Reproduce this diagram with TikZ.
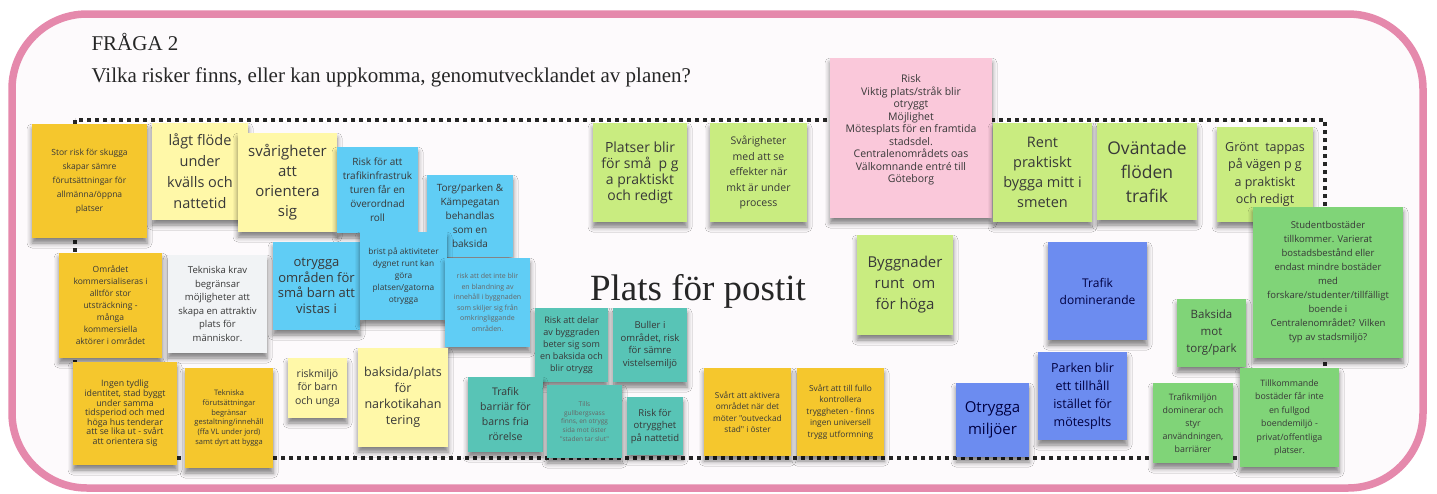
\documentclass[tikz,border=0pt]{standalone}
\usepackage{fontspec}
\setmainfont{Liberation Serif}
\newfontfamily\notesans{Open Sans}
\usetikzlibrary{shadows.blur}
\newcommand{\notefont}[2]{\notesans\fontsize{#1}{#2}\selectfont}

\definecolor{frameRose}{RGB}{229,137,172}
\definecolor{boardTint}{RGB}{253,250,252}
\definecolor{noteOrange}{RGB}{245,199,45}
\definecolor{noteLight}{RGB}{255,248,168}
\definecolor{noteBlue}{RGB}{96,205,245}
\definecolor{noteTeal}{RGB}{88,196,182}
\definecolor{noteLime}{RGB}{201,236,128}
\definecolor{noteGreen}{RGB}{128,212,120}
\definecolor{noteViolet}{RGB}{108,140,240}
\definecolor{notePink}{RGB}{250,200,218}
\definecolor{noteGrey}{RGB}{241,243,245}

\begin{document}
\begin{tikzpicture}[x=1pt, y=-1pt,
  note/.style={anchor=north west, align=center, inner sep=2pt, outer sep=0pt, fill=#1, text=black!78,
    blur shadow={shadow xshift=0pt, shadow yshift=-5pt, shadow blur radius=5pt, shadow opacity=50}},
  faint/.style={text=black!60}]
  \useasboundingbox (0,0) rectangle (1437,493);
  % board
  \draw[frameRose, line width=7.5pt, fill=boardTint, rounded corners=75pt] (12,14) rectangle (1423,488);
  \node[anchor=base west, font=\fontsize{21}{21}\selectfont, text=black!85] (fraga) at (88,50) {FRÅGA 2};
  \node[anchor=base west, font=\fontsize{21}{21}\selectfont, text=black!85] (question) at (88,82)
    {Vilka risker finns, eller kan uppkomma, genomutvecklandet av planen?};
  \draw[line width=3.5pt, dash pattern=on 4pt off 4pt, black!85] (75,120) rectangle (1325,458);
  \node[anchor=base, font=\fontsize{37}{37}\selectfont, text=black!85] (postit) at (698,300) {Plats för postit};

  % left group
  \node[note=noteOrange, minimum width=115, minimum height=114, font=\notefont{8.5}{14}] (skugga) at (32,124)
    {Stor risk för skugga\\skapar sämre\\förutsättningar för\\allmänna/öppna\\platser};
  \node[note=noteLight, minimum width=96, minimum height=97, font=\notefont{14.5}{21}] (flode) at (152,123)
    {lågt flöde\\under\\kvälls och\\nattetid};
  \node[note=noteLight, minimum width=99, minimum height=99, font=\notefont{15}{20}] (orientera) at (238,133)
    {svårigheter\\att\\orientera\\sig};
  \node[note=noteBlue, minimum width=81, minimum height=86, font=\notefont{10}{14}] (infra) at (337,147)
    {Risk för att\\trafikinfrastruk\\turen får en\\överordnad\\roll};
  \node[note=noteBlue, minimum width=86, minimum height=82, font=\notefont{10}{14}] (torg) at (427,175)
    {Torg/parken \&\\Kämpegatan\\behandlas\\som en\\baksida};
  \node[note=noteBlue, minimum width=87, minimum height=88, font=\notefont{13}{15.5}] (smabarn) at (273,242)
    {otrygga\\områden för\\små barn att\\vistas i};
  \node[note=noteBlue, minimum width=87, minimum height=88, font=\notefont{8.3}{12}] (brist) at (360,232)
    {brist på aktiviteter\\dygnet runt kan\\göra\\platsen/gatorna\\otrygga};
  \node[note=noteBlue, faint, minimum width=85, minimum height=89, font=\notefont{7}{10.5}] (blandning) at (445,258)
    {risk att det inte blir\\en blandning av\\innehåll i byggnaden\\som skiljer sig från\\omkringliggande\\områden.};
  \node[note=noteOrange, minimum width=103, minimum height=105, font=\notefont{8.5}{12}] (kommers) at (59,253)
    {Området\\kommersialiseras i\\alltför stor\\utsträckning -\\många\\kommersiella\\aktörer i området};
  \node[note=noteGrey, minimum width=99, minimum height=98, font=\notefont{9.5}{13.5}] (krav) at (168,255)
    {Tekniska krav\\begränsar\\möjligheter att\\skapa en attraktiv\\plats för\\människor.};
  \node[note=noteOrange, minimum width=104, minimum height=103, font=\notefont{8.8}{9.6}] (identitet) at (73,362)
    {Ingen tydlig\\identitet, stad byggt\\under samma\\tidsperiod och med\\höga hus tenderar\\att se lika ut - svårt\\att orientera sig};
  \node[note=noteOrange, minimum width=88, minimum height=100, font=\notefont{7.5}{9.8}] (forutsatt) at (185,368)
    {Tekniska\\förutsättningar\\begränsar\\gestaltning/innehåll\\(ffa VL under jord)\\samt dyrt att bygga};
  \node[note=noteLight, minimum width=59, minimum height=60, font=\notefont{10.5}{13.5}] (riskmiljo) at (288,358)
    {riskmiljö\\för barn\\och unga};
  \node[note=noteLight, minimum width=90, minimum height=99, font=\notefont{12.5}{16}] (narkotika) at (358,348)
    {baksida/plats\\för\\narkotikahan\\tering};

  % teal group
  \node[note=noteTeal, minimum width=73, minimum height=74, font=\notefont{9}{12}] (byggrad) at (535,308)
    {Risk att delar\\av byggraden\\beter sig som\\en baksida och\\blir otrygg};
  \node[note=noteTeal, minimum width=74, minimum height=74, font=\notefont{9.5}{12.5}] (buller) at (613,308)
    {Buller i\\området, risk\\för sämre\\vistelsemiljö};
  \node[note=noteTeal, minimum width=75, minimum height=75, font=\notefont{10.5}{15}] (barriar) at (468,377)
    {Trafik\\barriär för\\barns fria\\rörelse};
  \node[note=noteTeal, faint, minimum width=75, minimum height=73, font=\notefont{6.5}{8.8}] (gullberg) at (547,385)
    {Tills\\gullbergsvass\\finns, en otrygg\\sida mot öster\\"staden tar slut"};
  \node[note=noteTeal, minimum width=56, minimum height=58, font=\notefont{9.5}{12.5}] (nattetid) at (627,397)
    {Risk för\\otrygghet\\på nattetid};

  % top row
  \node[note=noteLime, minimum width=94, minimum height=99, font=\notefont{14}{16}] (platser) at (593,123)
    {Platser blir\\för små~ p g\\a praktiskt\\och redigt};
  \node[note=noteLime, minimum width=97, minimum height=99, font=\notefont{10.5}{15.5}] (effekter) at (710,123)
    {Svårigheter\\med att se\\effekter när\\mkt är under\\process};
  \node[note=notePink, minimum width=162, minimum height=160, font=\notefont{10.5}{12.5}] (mojlighet) at (830,58)
    {Risk\\Viktig plats/stråk blir\\otryggt\\Möjlighet\\Mötesplats för en framtida\\stadsdel.\\Centralenområdets oas\\Välkomnande entré till\\Göteborg\\[6pt]};
  \node[note=noteLime, minimum width=96, minimum height=100, font=\notefont{15}{21}] (hoga) at (857,235)
    {Byggnader\\runt~ om\\för höga};
  \node[note=noteLime, minimum width=99, minimum height=99, font=\notefont{14.5}{20}] (smeten) at (993,123)
    {Rent\\praktiskt\\bygga mitt i\\smeten};
  \node[note=noteLime, minimum width=100, minimum height=97, font=\notefont{17.5}{24}] (ovantade) at (1097,123)
    {Oväntade\\flöden\\trafik};
  \node[note=noteLime, minimum width=96, minimum height=95, font=\notefont{12.5}{17.5}] (gront) at (1217,127)
    {Grönt~ tappas\\på vägen p g\\a praktiskt\\och redigt};
  \node[note=noteGreen, minimum width=150, minimum height=151, font=\notefont{9.5}{14}] (student) at (1253,207)
    {Studentbostäder\\tillkommer. Varierat\\bostadsbestånd eller\\endast mindre bostäder\\med\\forskare/studenter/tillfälligt\\boende i\\Centralenområdet? Vilken\\typ av stadsmiljö?};

  % right lower group
  \node[note=noteViolet, text=blue!25!black, minimum width=99, minimum height=98, font=\notefont{12}{17}] (trafikdom) at (1048,242)
    {Trafik\\dominerande};
  \node[note=noteViolet, text=blue!25!black, minimum width=89, minimum height=88, font=\notefont{12.5}{18}] (tillhall) at (1038,352)
    {Parken blir\\ett tillhåll\\istället för\\mötesplts};
  \node[note=noteViolet, text=blue!25!black, minimum width=73, minimum height=74, font=\notefont{15}{21.5}] (miljoer) at (956,383)
    {Otrygga\\miljöer};
  \node[note=noteOrange, minimum width=87, minimum height=88, font=\notefont{8.3}{11.5}] (aktivera) at (704,368)
    {Svårt att aktivera\\området när det\\möter "outveckad\\stad" i öster};
  \node[note=noteOrange, minimum width=87, minimum height=88, font=\notefont{8.3}{11.5}] (kontroll) at (797,368)
    {Svårt att till fullo\\kontrollera\\tryggheten - finns\\ingen universell\\trygg utformning};
  \node[note=noteGreen, minimum width=69, minimum height=68, font=\notefont{11.5}{17}] (baksida) at (1177,299)
    {Baksida\\mot\\torg/park};
  \node[note=noteGreen, minimum width=80, minimum height=80, font=\notefont{8.8}{13}] (trafikmiljo) at (1153,383)
    {Trafikmiljön\\dominerar och\\styr\\användningen,\\barriärer};
  \node[note=noteGreen, minimum width=99, minimum height=99, font=\notefont{8.8}{13.5}] (boende) at (1240,368)
    {Tillkommande\\bostäder får inte\\en fullgod\\boendemiljö -\\privat/offentliga\\platser.};
\end{tikzpicture}
\end{document}
